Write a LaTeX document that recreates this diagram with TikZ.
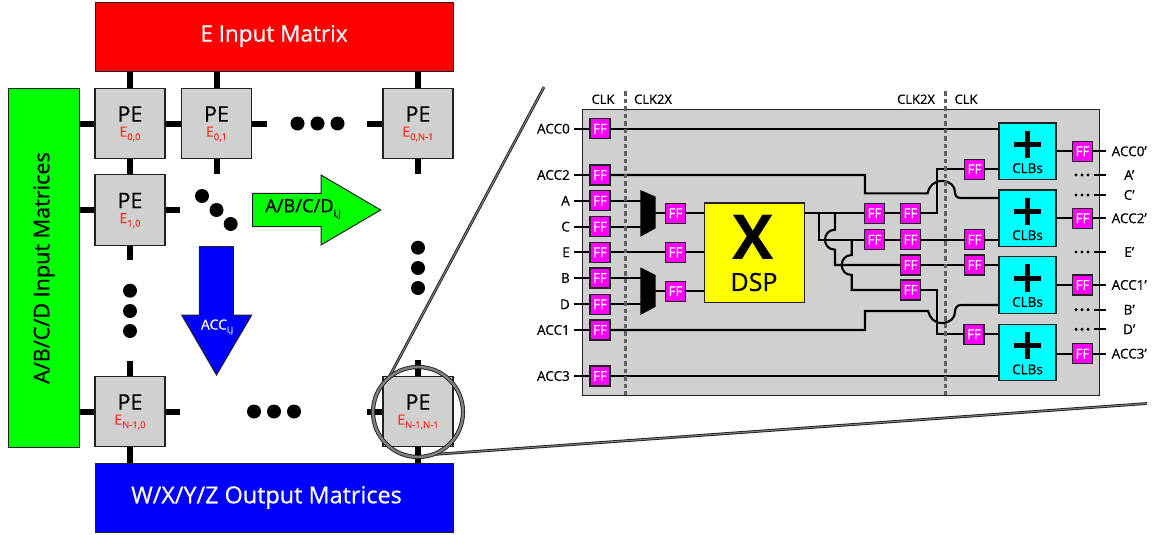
\documentclass[tikz,border=0pt]{standalone}
\usepackage{fontspec}
\setmainfont{Open Sans}[FakeBold=0.55,BoldFeatures={FakeBold=0}]
\definecolor{pegray}{HTML}{D0D0D0}
\definecolor{edge}{HTML}{222222}
\definecolor{subred}{HTML}{FF3020}
\definecolor{dashgray}{HTML}{606060}
\definecolor{ringgray}{HTML}{808080}
\definecolor{ffmag}{RGB}{255,0,255}
\definecolor{clbcyan}{RGB}{0,255,255}
\definecolor{dspyel}{RGB}{255,255,0}
\definecolor{puregreen}{RGB}{0,255,0}
\definecolor{pureblue}{RGB}{0,0,255}
\definecolor{purered}{RGB}{255,0,0}
\newcommand\fsz[1]{\fontsize{#1}{#1}\selectfont}
\tikzset{
  matrixbox/.style={draw=edge,line width=1.2pt,inner sep=0pt,anchor=north west},
  pecell/.style={draw=edge,line width=1.3pt,fill=pegray,minimum width=70pt,minimum height=70.5pt,inner sep=0pt},
  stub/.style={line width=6pt,black},
  bigdot/.style={circle,fill=black,minimum size=14pt,inner sep=0pt},
  wire/.style={line width=2.1pt,black},
  ffbox/.style={draw=edge,line width=1.1pt,fill=ffmag,text=white,minimum width=20pt,minimum height=20pt,inner sep=0pt,font=\fsz{13.5}},
  clbbox/.style={draw=edge,line width=1.1pt,fill=clbcyan,minimum width=57pt,minimum height=56.5pt,inner sep=0pt},
  lab/.style={font=\fsz{13.5},inner sep=0pt,inner xsep=4pt,text=black},
  zoomline/.style={line width=.9pt,draw=edge,double=ringgray,double distance=1pt},
  clkdash/.style={line width=3pt,dashgray,dash pattern=on 4.5pt off 3pt},
  smalldot/.style={circle,fill=black,minimum size=3.4pt,inner sep=0pt}
}
\newcommand\pecell[4]{%
  \node[pecell] (#1) at (#2,#3) {};
  \node[inner sep=0pt,font=\fsz{21.5}] at (#2,#3-9.5) {PE};
  \node[inner sep=0pt,text=subred,font=\fsz{14}] at (#2,#3+10.5) {E\raisebox{-3.5pt}{\fsz{9.5}#4}};
}
\newcommand\ffbox[3]{\node[ffbox] (#1) at (#2,#3) {FF};}
\newcommand\clbbox[3]{%
  \node[clbbox] (#1) at (#2,#3) {};
  \draw[line width=5pt,black] (#2-13.7,#3-7) -- (#2+13.7,#3-7);
  \draw[line width=5pt,black] (#2,#3-20.7) -- (#2,#3+6.7);
  \node[inner sep=0pt,font=\fsz{13.5}] at (#2,#3+17) {CLBs};
}
\begin{document}
\begin{tikzpicture}[x=1pt,y=-1pt]
\useasboundingbox (0,0) rectangle (1153,535);
% matrices
\node[matrixbox,fill=purered,minimum width=358pt,minimum height=69pt,text=white] (einput) at (95,2) {};
\node[text=white,font=\fsz{22.5},inner sep=0pt] at (274,36) {E Input Matrix};
\node[matrixbox,fill=puregreen,minimum width=71pt,minimum height=359pt] (leftm) at (8,88) {};
\node[rotate=90,font=\fsz{21.6},inner sep=0pt] at (44,268) {A/B/C/D Input Matrices};
\node[matrixbox,fill=pureblue,minimum width=358pt,minimum height=69pt,text=white] (output) at (95,463) {};
\node[text=white,font=\fsz{23.4},inner sep=0pt] at (266.5,497.5) {W/X/Y/Z Output Matrices};
% stubs under PE cells
\coordinate (c00) at (130,123.5); \coordinate (c01) at (216.5,123.5); \coordinate (c02) at (418,123.5);
\coordinate (c10) at (130,210); \coordinate (c30) at (130,411.5); \coordinate (c33) at (418,411.5);
\draw[stub] (c00) -- (c00 |- einput.south);
\draw[stub] (c01) -- (c01 |- einput.south);
\draw[stub] (c02) -- (c02 |- einput.south);
\draw[stub] (c00) -- (c00 -| leftm.east);
\draw[stub] (c00) -- (c01);
\draw[stub] (c01) -- (266.5,123.5);
\draw[stub] (c02) -- (367,123.5);
\draw[stub] (c00) -- (c10);
\draw[stub] (c01) -- (216.5,174);
\draw[stub] (c02) -- (418,174);
\draw[stub] (c10) -- (c10 -| leftm.east);
\draw[stub] (c10) -- (180,210);
\draw[stub] (c10) -- (130,260);
\draw[stub] (c30) -- (130,361);
\draw[stub] (c30) -- (c30 -| leftm.east);
\draw[stub] (c30) -- (180,411.5);
\draw[stub] (c30) -- (c30 |- output.north);
\draw[stub] (c33) -- (418,360);
\draw[stub] (c33) -- (367,411.5);
\draw[stub] (c33) -- (c33 |- output.north);
% PE cells
\pecell{p00}{130}{123.5}{0,0}
\pecell{p01}{216.5}{123.5}{0,1}
\pecell{p02}{418}{123.5}{0,N-1}
\pecell{p10}{130}{210}{1,0}
\pecell{p30}{130}{411.5}{N-1,0}
\pecell{p33}{418}{411.5}{N-1,N-1}
% dots
\foreach \n/\x/\y in {a/297.5/123.5,b/317.5/123.5,c/337.5/123.5,d/202/196,e/216.5/210,f/230.7/224,g/418/247.7,h/418/268,i/418/288,j/130/290.7,k/130/311,l/130/331,m/254/411.5,n/274/411.5,o/294/411.5}
  \node[bigdot] (dot\n) at (\x,\y) {};
% arrows
\path[draw=edge,line width=1pt,fill=puregreen] (252.7,193.3) -- (321,193.3) -- (321,175) -- (380.7,210) -- (321,245) -- (321,226.7) -- (252.7,226.7) -- cycle;
\node[inner sep=0pt,font=\fsz{18.3}] (greenlab) at (303,209) {A/B/C/D\raisebox{-4.5pt}{\fsz{9.5}i,j}};
\path[draw=edge,line width=1pt,fill=pureblue] (199.3,246.7) -- (233.3,246.7) -- (233.3,315) -- (251.7,315) -- (216.5,375) -- (181.7,315) -- (199.3,315) -- cycle;
\node[inner sep=0pt,text=white,font=\fsz{14}] (bluelab) at (217,327) {ACC\raisebox{-3pt}{\fsz{8}i,j}};
% zoom lens
\node[circle,minimum size=90pt,inner sep=0pt] (ring) at (418,412) {};
\coordinate (zt) at (544,87);
\coordinate (zb) at (1147,403.5);
\draw[zoomline] (ring.130) -- (zt);
\draw[zoomline] (ring.-70) -- (zb);
\node[circle,minimum size=90pt,inner sep=0pt,draw=edge,line width=.9pt,double=ringgray,double distance=2.4pt] at (418,412) {};
% detail panel
\node[matrixbox,fill=pegray,minimum width=517pt,minimum height=286.5pt,line width=1.3pt] (panel) at (582,108.5) {};
\node[lab,inner xsep=0pt,font=\fsz{13}] at (603,99.3) {CLK};
\node[lab,inner xsep=0pt,font=\fsz{13}] at (653,99.3) {CLK2X};
\node[lab,inner xsep=0pt,font=\fsz{13}] at (916,99.3) {CLK2X};
\node[lab,inner xsep=0pt,font=\fsz{13}] at (966,99.3) {CLK};
% input labels
\foreach \n/\y/\t in {ACC0/128.7/ACC0,ACC2/175/ACC2,A/200.7/A,C/226.7/C,E/252.3/E,B/278/B,D/304.3/D,ACC1/330/ACC1,ACC3/376/ACC3}
  \node[lab,anchor=east] (in\n) at (574,\y) {\t};
% input FFs
\foreach \n/\y in {ACC0/128.7,ACC2/175,A/200.7,C/226.7,E/252.3,B/278,D/304.3,ACC1/330,ACC3/376}
  \ffbox{f\n}{600}{\y}
% mid FFs
\ffbox{m1}{675.5}{213.3}
\ffbox{m2}{675.5}{252.3}
\ffbox{m3}{675.5}{291.3}
\node[draw=edge,line width=1.1pt,fill=dspyel,minimum width=100pt,minimum height=99.7pt,inner sep=0pt] (dsp) at (754.3,252.8) {};
\node[inner sep=0pt,font=\fsz{62}\bfseries] at (753,237.7) {X};
\node[inner sep=0pt,font=\fsz{25}] at (754,282) {DSP};
% right-hand FFs
\ffbox{r1a}{874.5}{213.3}
\ffbox{r1b}{910.5}{213.3}
\ffbox{r2a}{874.5}{239.7}
\ffbox{r2b}{910.5}{239.7}
\ffbox{r2c}{974.5}{239.7}
\ffbox{r3b}{910.5}{265}
\ffbox{r3c}{974.5}{265}
\ffbox{r4b}{910.5}{290}
\ffbox{t1}{974.5}{169.3}
\ffbox{t4}{974}{334.3}
% CLBs
\clbbox{clb1}{1027.5}{151.2}
\clbbox{clb2}{1027.5}{218.2}
\clbbox{clb3}{1027.5}{285}
\clbbox{clb4}{1027.5}{352.4}
% output FFs
\ffbox{o1}{1082.5}{151.3}
\ffbox{o2}{1082.5}{218.3}
\ffbox{o3}{1082.5}{285}
\ffbox{o4}{1082.5}{353.7}
% output labels
\foreach \n/\y/\t in {o1/151.3/ACC0’,o2/218.3/ACC2’,o3/285/ACC1’,o4/353.7/ACC3’,A/175/A’,C/195/C’,E/252/E’,B/309.7/B’,D/329.3/D’}
  \node[lab,anchor=west,minimum width=46pt,align=center] (out\n) at (1106,\y) {\t};
% wires
\foreach \n in {ACC0,ACC2,A,C,E,B,D,ACC1,ACC3}
  \draw[wire] (in\n.east) -- (f\n.west);
\draw[wire] (fACC0.east) -- (fACC0.east -| clb1.west);
\draw[wire] (fACC3.east) -- (fACC3.east -| clb4.west);
\draw[wire] (fE.east) -- (m2.west);
\draw[wire] (m2.east) -- (m2.east -| dsp.west);
\draw[wire] (m1.east) -- (m1.east -| dsp.west);
\draw[wire] (m3.east) -- (m3.east -| dsp.west);
\coordinate (muxa) at (648,213.3);
\coordinate (muxb) at (648,291.3);
\draw[wire] (fA.east) -- (fA.east -| muxa);
\draw[wire] (fC.east) -- (fC.east -| muxa);
\draw[wire] (fB.east) -- (fB.east -| muxb);
\draw[wire] (fD.east) -- (fD.east -| muxb);
\draw[wire] (muxa) -- (m1.west);
\draw[wire] (muxb) -- (m3.west);
\fill[black] (640.3,190) -- (655.7,196.7) -- (655.7,228.3) -- (640.3,236.7) -- cycle;
\fill[black] (640.3,267.3) -- (655.7,275) -- (655.7,306.7) -- (640.3,315) -- cycle;
% DSP fan-out
\draw[wire] (dsp.east |- r1a.west) -- (r1a.west);
\draw[wire] (r1a.east) -- (r1b.west);
\draw[wire] (819,213.3) -- (819,239.7) -- (r2a.west);
\draw[wire] (r2a.east) -- (r2b.west);
\draw[wire] (r2b.east) -- (r2c.west);
\draw[wire] (r2c.east) -- (r2c.east -| clb2.west);
\draw[wire] (835,213.3) -- (835,229.7) .. controls (821.7,229.7) and (821.7,249.7) .. (835,249.7) -- (835,265) -- (r3b.west);
\draw[wire] (r3b.east) -- (r3c.west);
\draw[wire] (r3c.east) -- (r3c.east -| clb3.west);
\draw[wire] (851.7,239.7) -- (851.7,255) .. controls (838.4,255) and (838.4,275) .. (851.7,275) -- (851.7,290) -- (r4b.west);
\draw[wire] (r1b.east) -- (937,213.3) -- (937,169.3) -- (t1.west);
\draw[wire] (t1.east) -- (t1.east -| clb1.west);
\draw[wire] (r4b.east) -- (937,290) -- (937,334.3) -- (t4.west);
\draw[wire] (t4.east) -- (t4.east -| clb4.west);
\draw[wire] (fACC2.east) -- (865,175) -- (865,193.3) -- (927.7,193.3) .. controls (929,186) and (934,181) .. (941.7,181) .. controls (950,181) and (955,186) .. (955,192) .. controls (955,196) and (957,198) .. (961,198) -- (clb2.west |- 0,198);
\draw[wire] (fACC1.east) -- (865,330) -- (865,311) -- (928,311) .. controls (930,318) and (934,323) .. (941.7,323) .. controls (950,323) and (955,318) .. (955,312) .. controls (955,308) and (957,305) .. (961,305) -- (clb3.west |- 0,305);
% CLB outputs
\foreach \k in {1,2,3,4} {
  \draw[wire] (clb\k.east |- o\k.west) -- (o\k.west);
  \draw[wire] (o\k.east) -- (1106,0 |- o\k.east);
}
% truncated outputs
\foreach \n in {A,C,E,B,D} {
  \draw[wire] (out\n.west) -- ++(-12,0);
  \node[smalldot] at ([xshift=-18pt]out\n.west) {};
  \node[smalldot] at ([xshift=-24pt]out\n.west) {};
  \node[smalldot] at ([xshift=-30pt]out\n.west) {};
}
% clock boundaries
\draw[clkdash] (625,91) -- (625,395);
\draw[clkdash] (945,91) -- (945,395);
\end{tikzpicture}
\end{document}
